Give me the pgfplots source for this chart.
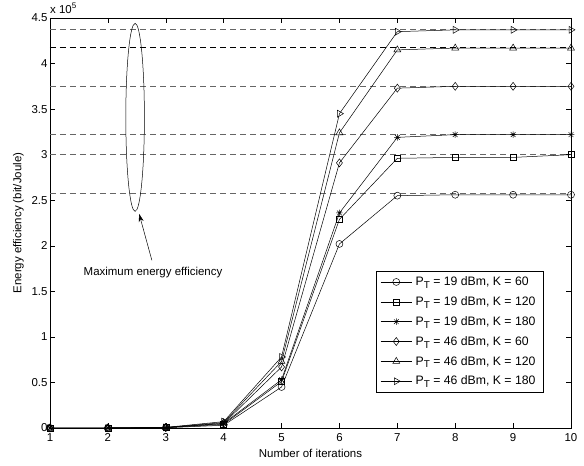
\documentclass[border=0pt]{standalone}
\usepackage{pgfplots}
\pgfplotsset{compat=1.18}
\usepackage{fontspec}
\setmainfont{Liberation Sans}
\usetikzlibrary{arrows.meta}
\pgfdeclareplotmark{mstar}{%
  \pgfpathmoveto{\pgfqpoint{-\pgfplotmarksize}{0pt}}\pgfpathlineto{\pgfqpoint{\pgfplotmarksize}{0pt}}%
  \pgfpathmoveto{\pgfqpoint{0pt}{-\pgfplotmarksize}}\pgfpathlineto{\pgfqpoint{0pt}{\pgfplotmarksize}}%
  \pgfpathmoveto{\pgfqpoint{-0.707\pgfplotmarksize}{-0.707\pgfplotmarksize}}\pgfpathlineto{\pgfqpoint{0.707\pgfplotmarksize}{0.707\pgfplotmarksize}}%
  \pgfpathmoveto{\pgfqpoint{-0.707\pgfplotmarksize}{0.707\pgfplotmarksize}}\pgfpathlineto{\pgfqpoint{0.707\pgfplotmarksize}{-0.707\pgfplotmarksize}}%
  \pgfusepathqstroke}
\newcommand{\ff}{\fontsize{11.5}{13.5}\selectfont}
\newcommand{\fl}{\fontsize{12.3}{14.3}\selectfont}
\newcommand{\PT}{P\raisebox{-0.45ex}{\fontsize{10}{11}\selectfont T}}
\begin{document}
\begin{tikzpicture}
\begin{axis}[
  scale only axis,
  width=521bp, height=410bp,
  xmin=1, xmax=10, ymin=0, ymax=4.5,
  xtick={1,...,10},
  ytick={0,0.5,...,4.5},
  yticklabels={0,0.5,1,1.5,2,2.5,3,3.5,4,4.5},
  /pgf/number format/assume math mode=true,
  tick align=inside,
  major tick length=5bp,
  tick style={black, line width=0.5pt},
  axis line style={line width=0.7pt},
  tick label style={font=\ff},
  label style={font=\ff},
  xticklabel style={yshift=-2bp},
  yticklabel style={xshift=1bp},
  xlabel={Number of iterations},
  ylabel={Energy efficiency (bit/Joule)},
  xlabel style={yshift=-1bp},
  ylabel style={yshift=1bp},
  legend style={at={(0.626,0.383)}, anchor=north west, draw=black, line width=0.6pt, fill=white,
    font=\fl, row sep=5.5bp, inner xsep=4bp, inner ysep=3.5bp,
    nodes={inner xsep=3.5bp}},
  legend cell align=left,
  legend image code/.code={\draw[mark repeat=2,mark phase=2,line width=0.5pt] plot coordinates {(0cm,0cm)(0.55cm,0cm)(1.1cm,0cm)};},
  every axis plot/.append style={line width=0.5pt},
  clip=false,
]
% dashed reference lines (maximum energy efficiency)
\addplot[forget plot, gray!80!black, dash pattern=on 6bp off 4bp, line width=0.7pt] coordinates {(1,4.38)(10,4.38)};
\addplot[forget plot, black, dash pattern=on 6bp off 4bp, line width=0.7pt] coordinates {(1,4.18)(10,4.18)};
\addplot[forget plot, gray!80!black, dash pattern=on 6bp off 4bp, line width=0.7pt] coordinates {(1,3.755)(10,3.755)};
\addplot[forget plot, gray!80!black, dash pattern=on 6bp off 4bp, line width=0.7pt] coordinates {(1,3.225)(10,3.225)};
\addplot[forget plot, gray!80!black, dash pattern=on 6bp off 4bp, line width=0.7pt] coordinates {(1,3.005)(10,3.005)};
\addplot[forget plot, gray!80!black, dash pattern=on 6bp off 4bp, line width=0.7pt] coordinates {(1,2.57)(10,2.57)};
% series
\addplot[black, mark=o, mark size=3.5bp] coordinates {(1,0)(2,0)(3,0.003)(4,0.03)(5,0.45)(6,2.02)(7,2.55)(8,2.56)(9,2.56)(10,2.56)};
\addlegendentry{\PT{} = 19 dBm, K = 60}
\addplot[black, mark=square, mark size=3bp] coordinates {(1,0)(2,0)(3,0.004)(4,0.04)(5,0.51)(6,2.29)(7,2.96)(8,2.97)(9,2.97)(10,3.00)};
\addlegendentry{\PT{} = 19 dBm, K = 120}
\addplot[black, mark=mstar, mark size=3.3bp] coordinates {(1,0)(2,0)(3,0.005)(4,0.05)(5,0.53)(6,2.36)(7,3.19)(8,3.22)(9,3.22)(10,3.22)};
\addlegendentry{\PT{} = 19 dBm, K = 180}
\addplot[black, mark=diamond, mark size=4bp] coordinates {(1,0)(2,0)(3,0.005)(4,0.05)(5,0.67)(6,2.91)(7,3.73)(8,3.75)(9,3.75)(10,3.75)};
\addlegendentry{\PT{} = 46 dBm, K = 60}
\addplot[black, mark=triangle, mark size=4bp] coordinates {(1,0)(2,0)(3,0.006)(4,0.06)(5,0.73)(6,3.24)(7,4.15)(8,4.17)(9,4.17)(10,4.17)};
\addlegendentry{\PT{} = 46 dBm, K = 120}
\addplot[black, mark=triangle, mark size=4bp, mark options={rotate=-90}] coordinates {(1,0)(2,0)(3,0.007)(4,0.07)(5,0.78)(6,3.45)(7,4.35)(8,4.37)(9,4.37)(10,4.37)};
\addlegendentry{\PT{} = 46 dBm, K = 180}
% annotation
\draw[line width=0.5pt] (axis cs:2.47,3.41) ellipse [x radius=9.3bp, y radius=94bp];
\draw[line width=0.5pt, -{Stealth[length=8bp, width=5bp]}] (axis cs:2.76,1.84) -- (axis cs:2.54,2.35);
\node[font=\ff] at (axis cs:2.78,1.71) {Maximum energy efficiency};
\node[anchor=south west, inner xsep=0pt, inner ysep=1.5bp, font=\ff, yshift=3bp] at (rel axis cs:0,1) {x 10\textsuperscript{5}};
% page margins as in the reference
\path (rel axis cs:0,0) ++(-50bp,-38bp);
\path (rel axis cs:1,1) ++(13bp,18bp);
\end{axis}
\end{tikzpicture}
\end{document}
